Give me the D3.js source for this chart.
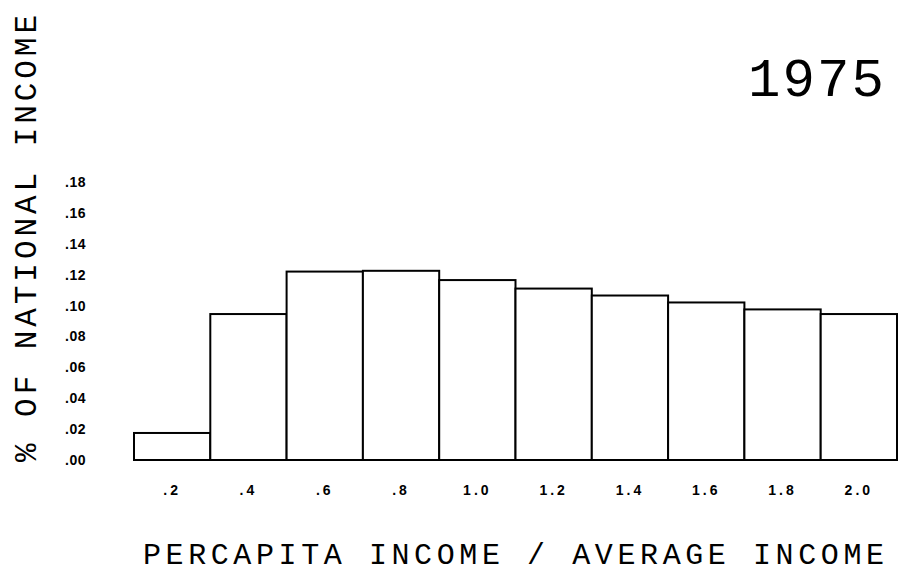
<!DOCTYPE html>
<html>
<head>
<meta charset="utf-8">
<script src="https://cdn.jsdelivr.net/npm/d3@7"></script>
<style>
  html, body { margin: 0; padding: 0; background: #fff; }
  svg { display: block; }
</style>
</head>
<body>
<svg id="chart" width="902" height="574"></svg>
<script>
const categories = [".2", ".4", ".6", ".8", "1.0", "1.2", "1.4", "1.6", "1.8", "2.0"];
const values = [0.0175, 0.0945, 0.122, 0.1225, 0.1165, 0.111, 0.1065, 0.102, 0.0975, 0.0945];
const yTicks = [0, 0.02, 0.04, 0.06, 0.08, 0.10, 0.12, 0.14, 0.16, 0.18];
const yTickLabels = [".00", ".02", ".04", ".06", ".08", ".10", ".12", ".14", ".16", ".18"];
const yearLabel = "1975";
const xTitle = "PERCAPITA INCOME / AVERAGE INCOME";
const yTitle = "% OF NATIONAL INCOME";

const svg = d3.select("#chart");
const x = d3.scaleBand().domain(categories).range([134, 897]).padding(0);
const y = d3.scaleLinear().domain([0, 0.18]).range([460, 182]);

const plotFont = "'Liberation Mono', 'DejaVu Sans Mono', monospace";
const tickFont = "'Liberation Sans', 'DejaVu Sans', sans-serif";

// bars
svg.append("g").selectAll("rect")
  .data(values)
  .join("rect")
  .attr("x", (d, i) => x(categories[i]))
  .attr("y", d => y(d))
  .attr("width", x.bandwidth())
  .attr("height", d => y(0) - y(d))
  .attr("fill", "#fff")
  .attr("stroke", "#000")
  .attr("stroke-width", 2);

// y axis (labels only)
const yAxis = d3.axisLeft(y).tickValues(yTicks)
  .tickFormat((d, i) => yTickLabels[i]).tickSize(0).tickPadding(0);
const gy = svg.append("g").attr("transform", "translate(86,0)").call(yAxis);
gy.select(".domain").remove();
gy.selectAll("text")
  .attr("font-family", tickFont).attr("font-weight", "bold")
  .attr("font-size", 14).attr("fill", "#000").attr("letter-spacing", 0.5);

// x axis (labels only)
const xAxis = d3.axisBottom(x).tickSize(0).tickPadding(0);
const gx = svg.append("g").attr("transform", "translate(0,485)").call(xAxis);
gx.select(".domain").remove();
gx.selectAll("text")
  .attr("font-family", tickFont).attr("font-weight", "bold")
  .attr("font-size", 14).attr("fill", "#000").attr("letter-spacing", 3);

// year
svg.append("text")
  .attr("x", 748).attr("y", 96)
  .attr("font-family", plotFont).attr("font-size", 54)
  .attr("textLength", 136).attr("lengthAdjust", "spacing")
  .attr("fill", "#000")
  .text(yearLabel);

// x title
svg.append("text")
  .attr("x", 143).attr("y", 564)
  .attr("font-family", plotFont).attr("font-size", 30)
  .attr("textLength", 741).attr("lengthAdjust", "spacing")
  .attr("fill", "#000")
  .text(xTitle);

// y title
svg.append("text")
  .attr("transform", "translate(36,462) rotate(-90)")
  .attr("font-family", plotFont).attr("font-size", 31)
  .attr("textLength", 447).attr("lengthAdjust", "spacing")
  .attr("fill", "#000")
  .text(yTitle);
</script>
</body>
</html>
